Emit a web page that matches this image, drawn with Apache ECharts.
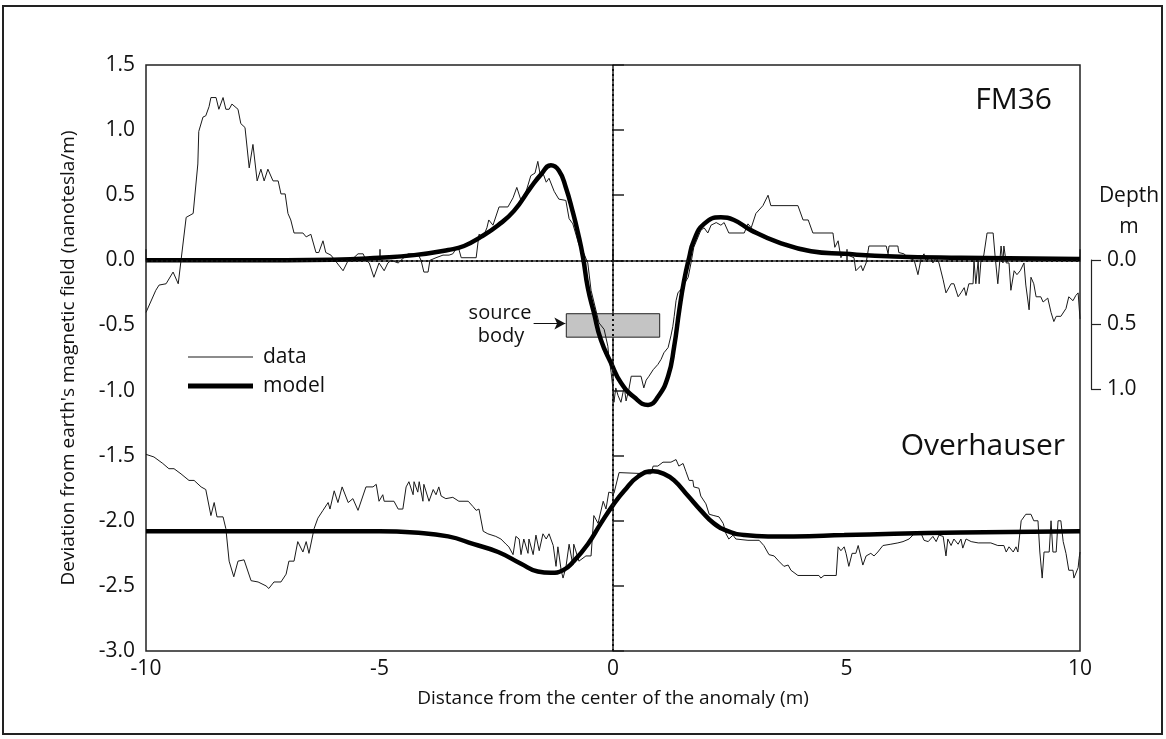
<!DOCTYPE html>
<html>
<head>
<meta charset="utf-8">
<title>FM36 / Overhauser</title>
<script src="https://cdn.jsdelivr.net/npm/echarts@6/dist/echarts.min.js"></script>
<style>
html, body { margin: 0; padding: 0; background: #fff; }
#main { width: 1166px; height: 739px; }
</style>
</head>
<body>
<div id="main"></div>
<script>
// FM36 gradiometer, measured (x in m, y in nT/m)
var fmDataX = [-10.00,-9.79,-9.72,-9.57,-9.42,-9.31,-9.25,-9.14,-8.99,-8.89,-8.87,-8.78,-8.72,-8.65,-8.61,-8.50,-8.44,-8.35,-8.29,-8.22,-8.16,-8.12,-8.03,-7.97,-7.88,-7.79,-7.71,-7.62,-7.54,-7.47,-7.39,-7.28,-7.17,-7.11,-7.02,-6.96,-6.90,-6.83,-6.64,-6.57,-6.47,-6.36,-6.30,-6.21,-6.15,-6.04,-5.78,-5.67,-5.55,-5.46,-5.35,-5.29,-5.22,-5.12,-5.01,-4.90,-4.82,-4.75,-4.60,-4.39,-4.18,-4.11,-4.05,-3.96,-3.92,-3.79,-3.64,-3.51,-3.43,-3.32,-3.25,-2.93,-2.87,-2.78,-2.70,-2.66,-2.57,-2.44,-2.25,-2.14,-2.06,-1.97,-1.86,-1.76,-1.67,-1.61,-1.56,-1.50,-1.43,-1.37,-1.26,-1.16,-1.01,-0.94,-0.86,-0.73,-0.62,-0.54,-0.47,-0.30,-0.19,-0.11,-0.09,-0.04,0.00,0.02,0.06,0.11,0.17,0.24,0.28,0.34,0.39,0.60,0.66,0.71,0.77,0.86,0.96,1.03,1.09,1.18,1.24,1.28,1.31,1.35,1.39,1.46,1.50,1.61,1.67,1.73,1.88,1.95,2.03,2.10,2.21,2.31,2.38,2.48,2.81,2.89,2.96,3.06,3.21,3.32,3.38,3.96,4.07,4.18,4.28,4.71,4.75,4.82,4.88,4.93,5.03,5.16,5.20,5.31,5.35,5.42,5.48,5.85,5.89,5.91,6.10,6.12,6.23,6.32,6.45,6.53,6.60,6.66,6.70,6.81,6.85,6.92,6.98,7.07,7.13,7.24,7.30,7.39,7.45,7.52,7.56,7.62,7.71,7.73,7.77,7.82,7.84,7.88,7.94,8.01,8.14,8.18,8.24,8.31,8.35,8.37,8.42,8.48,8.52,8.59,8.65,8.72,8.80,8.84,8.91,8.95,9.01,9.06,9.16,9.21,9.31,9.38,9.44,9.49,9.59,9.70,9.76,9.85,9.91,9.96,10.00];
var fmDataY = [-0.40,-0.23,-0.19,-0.18,-0.09,-0.18,0.00,0.33,0.36,0.74,0.99,1.10,1.11,1.18,1.25,1.25,1.16,1.25,1.16,1.16,1.20,1.20,1.16,1.05,1.02,0.71,0.89,0.61,0.70,0.61,0.70,0.61,0.61,0.51,0.51,0.36,0.31,0.21,0.21,0.18,0.20,0.06,0.06,0.15,0.06,0.04,-0.08,0.00,0.02,0.05,0.05,0.00,-0.02,-0.13,-0.02,-0.08,-0.02,0.00,-0.02,0.05,0.05,0.00,-0.09,-0.09,0.00,0.02,0.04,0.04,0.05,0.11,0.02,0.02,0.20,0.18,0.25,0.31,0.27,0.41,0.41,0.48,0.56,0.46,0.53,0.65,0.67,0.76,0.66,0.67,0.60,0.63,0.53,0.47,0.46,0.32,0.28,0.12,0.05,-0.02,-0.23,-0.48,-0.53,-0.66,-0.74,-0.86,-0.99,-1.09,-0.98,-1.04,-1.09,-0.97,-1.08,-0.99,-0.89,-0.89,-0.98,-0.92,-0.89,-0.84,-0.80,-0.76,-0.71,-0.67,-0.58,-0.51,-0.43,-0.31,-0.25,-0.22,-0.23,-0.13,-0.02,0.10,0.23,0.25,0.21,0.27,0.29,0.27,0.29,0.21,0.21,0.28,0.25,0.36,0.42,0.50,0.42,0.42,0.31,0.31,0.21,0.21,0.10,0.15,0.02,0.05,0.04,0.02,-0.08,-0.04,-0.08,-0.02,0.11,0.11,0.05,0.11,0.11,0.06,0.05,0.02,0.00,-0.11,0.02,0.05,0.00,0.02,-0.02,0.02,-0.02,-0.15,-0.25,-0.18,-0.18,-0.28,-0.25,-0.21,-0.27,-0.18,-0.18,0.00,-0.18,0.00,-0.18,0.00,0.04,0.21,0.21,0.04,-0.18,0.11,-0.02,0.11,-0.02,-0.02,-0.23,-0.08,-0.11,-0.08,-0.02,-0.19,-0.38,-0.13,-0.18,-0.28,-0.28,-0.32,-0.29,-0.40,-0.47,-0.43,-0.43,-0.37,-0.28,-0.31,-0.27,-0.25,-0.45];

// FM36 model curve
var fmModelX = [-10,-8,-6,-5,-4.26,-3.53,-3.19,-2.83,-2.46,-2.12,-1.76,-1.54,-1.33,-1.16,-1.01,-0.86,-0.75,-0.64,-0.54,-0.41,-0.26,-0.04,0.17,0.45,0.75,0.96,1.18,1.31,1.42,1.52,1.63,1.73,1.95,2.31,2.59,2.96,3.53,4.24,4.95,6.02,7.45,10];
var fmModelY = [0.0,0.0,0.005,0.02,0.04,0.08,0.11,0.18,0.27,0.38,0.56,0.66,0.73,0.69,0.56,0.37,0.21,0.02,-0.21,-0.40,-0.61,-0.79,-0.94,-1.05,-1.11,-1.05,-0.89,-0.66,-0.38,-0.16,0.02,0.15,0.28,0.33,0.31,0.23,0.14,0.07,0.05,0.03,0.02,0.01];

// Overhauser, measured (offset down by about 2 nT/m)
var ovDataX = [-10.00,-9.83,-9.64,-9.51,-9.40,-9.25,-9.08,-8.97,-8.82,-8.72,-8.61,-8.54,-8.48,-8.35,-8.29,-8.22,-8.12,-8.03,-7.90,-7.75,-7.60,-7.43,-7.37,-7.26,-7.11,-7.00,-6.94,-6.83,-6.75,-6.64,-6.57,-6.51,-6.40,-6.32,-6.21,-6.10,-6.06,-5.97,-5.89,-5.80,-5.67,-5.57,-5.46,-5.29,-5.14,-5.07,-5.01,-4.93,-4.90,-4.69,-4.60,-4.50,-4.43,-4.37,-4.28,-4.26,-4.18,-4.15,-4.07,-4.05,-3.94,-3.85,-3.79,-3.73,-3.68,-3.58,-3.43,-3.30,-3.10,-3.00,-2.93,-2.87,-2.78,-2.68,-2.51,-2.40,-2.29,-2.23,-2.14,-2.08,-2.01,-1.97,-1.91,-1.82,-1.80,-1.71,-1.65,-1.58,-1.50,-1.43,-1.37,-1.28,-1.22,-1.18,-1.11,-1.07,-1.01,-0.94,-0.86,-0.84,-0.73,-0.58,-0.47,-0.41,-0.32,-0.21,-0.15,-0.09,0.02,0.13,0.17,0.81,0.86,0.96,1.07,1.24,1.35,1.41,1.50,1.56,1.63,1.71,1.73,1.84,1.88,1.99,2.06,2.16,2.27,2.36,2.42,2.48,2.57,2.63,2.89,3.13,3.23,3.34,3.45,3.55,3.66,3.75,3.81,3.96,4.41,4.45,4.52,4.78,4.82,4.88,4.95,4.99,5.05,5.12,5.20,5.25,5.35,5.42,5.52,5.59,5.67,5.78,5.95,6.10,6.21,6.34,6.45,6.60,6.66,6.75,6.85,6.92,6.98,7.07,7.13,7.17,7.24,7.30,7.39,7.45,7.49,7.56,7.67,7.82,8.09,8.24,8.37,8.42,8.48,8.57,8.63,8.67,8.74,8.84,8.95,9.01,9.10,9.14,9.19,9.23,9.34,9.38,9.42,9.49,9.53,9.59,9.64,9.70,9.76,9.85,9.87,9.96,9.98,10.00];
var ovDataY = [-1.49,-1.51,-1.56,-1.60,-1.60,-1.64,-1.69,-1.69,-1.74,-1.76,-1.96,-1.86,-1.97,-1.97,-2.06,-2.31,-2.43,-2.31,-2.30,-2.46,-2.47,-2.50,-2.52,-2.47,-2.47,-2.41,-2.31,-2.31,-2.16,-2.24,-2.16,-2.25,-2.06,-1.98,-1.92,-1.86,-1.91,-1.77,-1.86,-1.74,-1.86,-1.83,-1.92,-1.74,-1.74,-1.72,-1.85,-1.80,-1.85,-1.85,-1.91,-1.91,-1.74,-1.70,-1.80,-1.70,-1.78,-1.70,-1.85,-1.72,-1.85,-1.76,-1.80,-1.74,-1.81,-1.83,-1.82,-1.85,-1.85,-1.89,-1.92,-1.91,-2.08,-2.10,-2.12,-2.14,-2.18,-2.20,-2.26,-2.12,-2.14,-2.26,-2.14,-2.25,-2.14,-2.26,-2.11,-2.23,-2.10,-2.14,-2.10,-2.19,-2.35,-2.20,-2.38,-2.44,-2.36,-2.18,-2.34,-2.18,-2.31,-2.27,-2.27,-1.96,-2.02,-1.85,-1.91,-1.78,-1.79,-1.63,-1.64,-1.64,-1.58,-1.58,-1.55,-1.55,-1.53,-1.58,-1.56,-1.62,-1.69,-1.69,-1.74,-1.75,-1.81,-1.87,-1.95,-1.96,-1.97,-2.02,-2.10,-2.14,-2.11,-2.14,-2.15,-2.15,-2.19,-2.26,-2.27,-2.31,-2.35,-2.34,-2.38,-2.42,-2.42,-2.44,-2.42,-2.42,-2.20,-2.23,-2.20,-2.25,-2.35,-2.25,-2.25,-2.19,-2.34,-2.27,-2.25,-2.27,-2.24,-2.19,-2.18,-2.17,-2.16,-2.14,-2.10,-2.10,-2.15,-2.16,-2.12,-2.16,-2.11,-2.12,-2.27,-2.14,-2.19,-2.14,-2.18,-2.14,-2.21,-2.14,-2.16,-2.17,-2.17,-2.19,-2.19,-2.24,-2.20,-2.24,-2.20,-2.24,-2.00,-1.95,-1.95,-2.00,-2.00,-2.24,-2.44,-2.24,-2.24,-2.00,-2.24,-2.24,-2.00,-2.00,-2.16,-2.25,-2.38,-2.38,-2.44,-2.36,-2.29,-2.24];

// Overhauser model curve
var ovModelX = [-10,-6,-5,-4.26,-3.53,-2.98,-2.46,-1.97,-1.61,-1.33,-1.07,-0.84,-0.54,-0.26,0.0,0.24,0.54,0.86,1.09,1.31,1.61,1.88,2.16,2.46,2.81,3.32,3.87,4.95,6.02,7.45,10];
var ovModelY = [-2.08,-2.08,-2.08,-2.09,-2.12,-2.18,-2.24,-2.33,-2.39,-2.40,-2.38,-2.31,-2.18,-2.02,-1.88,-1.77,-1.66,-1.62,-1.64,-1.69,-1.81,-1.92,-2.02,-2.08,-2.11,-2.12,-2.12,-2.11,-2.10,-2.09,-2.08];

// source body: x extent (m) and its place on the field axis
var bodyX = [-1.0, 1.0];
var bodyY = [-0.41, -0.59];
var arrowX = [-1.7, -1.02];
var arrowY = -0.485;

var xTicks = [-10, -5, 0, 5, 10];
var depthTicks = [0.0, 0.5, 1.0];

function pairs(xs, ys) {
    var out = [];
    for (var i = 0; i < xs.length; i++) out.push([xs[i], ys[i]]);
    return out;
}

var FONT = "'Open Sans', 'Noto Sans', sans-serif";
var lblStyle = {color: '#111', fontSize: 21, fontFamily: FONT};
var legendText = {fontSize: 21, color: '#111', fontFamily: FONT, lineHeight: 22, padding: [0, 0, 0, 5]};

var chart = echarts.init(document.getElementById('main'));
chart.setOption({
    animation: false,
    backgroundColor: '#fff',
    textStyle: {fontFamily: FONT},
    grid: [
        {left: 146, right: 86, top: 65, bottom: 88, show: true, borderColor: '#222', borderWidth: 1.5},
        {left: 1091, width: 1, top: 260, height: 129}
    ],
    // two legends so the thin and the thick line keys keep their own widths
    legend: [{
        left: 188, top: 346, padding: 0,
        icon: 'rect', itemWidth: 65, itemHeight: 1,
        data: ['data'],
        textStyle: legendText
    }, {
        left: 188, top: 375, padding: 0,
        icon: 'rect', itemWidth: 65, itemHeight: 5,
        data: ['model'],
        textStyle: legendText
    }],
    xAxis: [{
        type: 'value',
        min: xTicks[0],
        max: xTicks[xTicks.length - 1],
        interval: 5,
        name: 'Distance from the center of the anomaly (m)',
        nameLocation: 'middle',
        nameGap: 38,
        nameTextStyle: {fontSize: 19, color: '#111', fontFamily: FONT},
        axisLine: {lineStyle: {color: '#222', width: 1.5}},
        axisTick: {inside: true, length: 11, lineStyle: {color: '#222', width: 1.5}},
        axisLabel: Object.assign({margin: 8}, lblStyle),
        splitLine: {show: false}
    }, {
        gridIndex: 1, type: 'value', min: 0, max: 1, show: false
    }],
    yAxis: [{
        type: 'value',
        min: -3,
        max: 1.5,
        interval: 0.5,
        name: "Deviation from earth's magnetic field (nanotesla/m)",
        nameLocation: 'middle',
        nameGap: 68,
        nameTextStyle: {fontSize: 19, color: '#111', fontFamily: FONT},
        axisLine: {lineStyle: {color: '#222', width: 1.5}},
        axisTick: {inside: true, length: 11, lineStyle: {color: '#222', width: 1.5}},
        axisLabel: Object.assign({margin: 11, formatter: function (v) { return v.toFixed(1); }}, lblStyle),
        splitLine: {show: false}
    }, {
        // depth scale for the source body
        gridIndex: 1,
        type: 'value',
        position: 'right',
        inverse: true,
        min: depthTicks[0],
        max: depthTicks[depthTicks.length - 1],
        interval: 0.5,
        axisLine: {show: true, lineStyle: {color: '#222', width: 1.2}},
        axisTick: {show: true, length: 10, lineStyle: {color: '#222', width: 1.2}},
        axisLabel: Object.assign({margin: 15, formatter: function (v) { return v.toFixed(1); }}, lblStyle),
        splitLine: {show: false}
    }],
    series: [
        {
            name: 'data',
            type: 'line',
            symbol: 'none',
            data: pairs(fmDataX, fmDataY),
            lineStyle: {color: '#1a1a1a', width: 1},
            itemStyle: {color: '#1a1a1a'},
            z: 3,
            markArea: {
                silent: true,
                itemStyle: {color: '#c4c4c4', borderColor: '#222', borderWidth: 1},
                data: [[{coord: [bodyX[0], bodyY[0]]}, {coord: [bodyX[1], bodyY[1]]}]]
            },
            markLine: {
                silent: true,
                symbol: ['none', 'arrow'],
                symbolSize: [9, 11],
                label: {show: false},
                lineStyle: {color: '#111', width: 1, type: 'solid'},
                data: [[{coord: [arrowX[0], arrowY]}, {coord: [arrowX[1], arrowY]}]]
            }
        },
        {
            name: 'model',
            type: 'line',
            symbol: 'none',
            smooth: 0.5,
            data: pairs(fmModelX, fmModelY),
            lineStyle: {color: '#000', width: 4.5},
            itemStyle: {color: '#000'},
            z: 4,
            markLine: {
                silent: true,
                symbol: 'none',
                label: {show: false},
                lineStyle: {color: '#111', width: 2, type: [2, 3]},
                data: [{xAxis: 0}, {yAxis: 0}]
            }
        },
        {
            name: 'data',
            type: 'line',
            symbol: 'none',
            data: pairs(ovDataX, ovDataY),
            lineStyle: {color: '#1a1a1a', width: 1},
            itemStyle: {color: '#1a1a1a'},
            z: 3
        },
        {
            name: 'model',
            type: 'line',
            symbol: 'none',
            smooth: 0.5,
            data: pairs(ovModelX, ovModelY),
            lineStyle: {color: '#000', width: 4.5},
            itemStyle: {color: '#000'},
            z: 4
        }
    ],
    graphic: [
        {type: 'rect', shape: {x: 3, y: 6, width: 1159, height: 728}, style: {fill: null, stroke: '#222', lineWidth: 2}, silent: true, z: 100},
        {type: 'text', x: 1052, y: 100, style: {text: 'FM36', font: '30px ' + FONT, fill: '#111', align: 'right', verticalAlign: 'middle'}},
        {type: 'text', x: 1065, y: 446, style: {text: 'Overhauser', font: '30px ' + FONT, fill: '#111', align: 'right', verticalAlign: 'middle'}},
        {type: 'text', x: 1129, y: 196, style: {text: 'Depth', font: '21px ' + FONT, fill: '#111', align: 'center', verticalAlign: 'middle'}},
        {type: 'text', x: 1129, y: 227, style: {text: 'm', font: '21px ' + FONT, fill: '#111', align: 'center', verticalAlign: 'middle'}},
        {type: 'text', x: 500, y: 313, style: {text: 'source', font: '20px ' + FONT, fill: '#111', align: 'center', verticalAlign: 'middle'}},
        {type: 'text', x: 501, y: 336, style: {text: 'body', font: '20px ' + FONT, fill: '#111', align: 'center', verticalAlign: 'middle'}}
    ]
});
</script>
</body>
</html>
